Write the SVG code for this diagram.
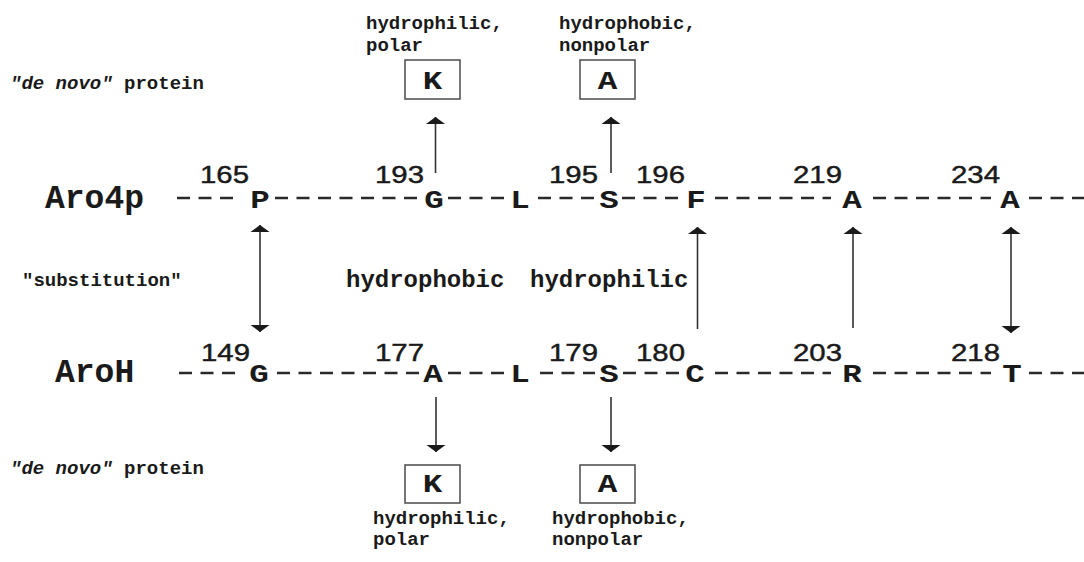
<svg xmlns="http://www.w3.org/2000/svg" width="1084" height="562" viewBox="0 0 1084 562">
<style>
.mono{font-family:"Courier New","Liberation Mono",monospace;font-weight:bold;fill:#1a1a1a}
.big{font-size:33px}
.res{font-size:26px;text-anchor:middle}
.lbl{font-size:19px}
.mid{font-size:24px}
.num{font-family:"Liberation Sans",Arial,sans-serif;font-size:24.5px;fill:#1a1a1a;stroke:#1a1a1a;stroke-width:0.45}
.dash{stroke:#2a2a2a;stroke-width:2.6;stroke-dasharray:13 8.5;fill:none}
.arr{stroke:#333;stroke-width:1.6;fill:none}
.box{fill:#fff;stroke:#555;stroke-width:1.6}
</style>
<defs>
<marker id="ah" markerUnits="userSpaceOnUse" markerWidth="10" markerHeight="22" viewBox="0 -11 8 22" refX="7" refY="0" orient="auto-start-reverse">
<path d="M0,-9.5 L7,0 L0,9.5 Z" fill="#1a1a1a"/>
</marker>
</defs>
<rect width="1084" height="562" fill="#fff"/>

<g id="connectors">
<path class="dash" d="M177,198H233 M275,198H422 M448,198H504 M538,198H594 M622,198H678 M715,198H831 M873,198H991 M1029,198H1084"/>
<path class="dash" d="M179,373H238 M277,373H420 M448,373H506 M540,373H595 M623,373H679 M715,373H831 M873,373H991 M1029,373H1084"/>
<line class="arr" x1="435.5" y1="173" x2="435.5" y2="117" marker-end="url(#ah)"/>
<line class="arr" x1="611" y1="173" x2="611" y2="117" marker-end="url(#ah)"/>
<line class="arr" x1="260" y1="225" x2="260" y2="332" marker-start="url(#ah)" marker-end="url(#ah)"/>
<line class="arr" x1="697.5" y1="329" x2="697.5" y2="227" marker-end="url(#ah)"/>
<line class="arr" x1="853" y1="328" x2="853" y2="227" marker-end="url(#ah)"/>
<line class="arr" x1="1011" y1="227" x2="1011" y2="333" marker-start="url(#ah)" marker-end="url(#ah)"/>
<line class="arr" x1="436" y1="397" x2="436" y2="452" marker-end="url(#ah)"/>
<line class="arr" x1="611" y1="397" x2="611" y2="452" marker-end="url(#ah)"/>
</g>

<g id="label-denovo-top"><text class="mono lbl" x="10" y="89"><tspan font-style="italic">"de novo"</tspan> protein</text></g>
<g id="label-denovo-bottom"><text class="mono lbl" x="10" y="474"><tspan font-style="italic">"de novo"</tspan> protein</text></g>
<g id="label-substitution"><text class="mono lbl" x="22" y="286">"substitution"</text></g>
<g id="label-hydrophobic"><text class="mono mid" x="346" y="287">hydrophobic</text></g>
<g id="label-hydrophilic"><text class="mono mid" x="530" y="287">hydrophilic</text></g>

<g id="aro4p"><text class="mono big" x="45" y="208">Aro4p</text></g>
<g id="aroh"><text class="mono big" x="55" y="382">AroH</text></g>

<g id="top-K">
<text class="mono lbl" x="366" y="29">hydrophilic,</text>
<text class="mono lbl" x="366" y="51">polar</text>
<rect class="box" x="405" y="60" width="55" height="39"/>
<text class="mono res" transform="translate(432.5,89) scale(1.25,1)">K</text>
</g>
<g id="top-A">
<text class="mono lbl" x="559" y="29">hydrophobic,</text>
<text class="mono lbl" x="559" y="51">nonpolar</text>
<rect class="box" x="580" y="60" width="55" height="39"/>
<text class="mono res" transform="translate(607.5,89) scale(1.25,1)">A</text>
</g>
<g id="bottom-K">
<rect class="box" x="405" y="465" width="55" height="38"/>
<text class="mono res" transform="translate(432.5,492) scale(1.25,1)">K</text>
<text class="mono lbl" x="373" y="524">hydrophilic,</text>
<text class="mono lbl" x="373" y="545">polar</text>
</g>
<g id="bottom-A">
<rect class="box" x="580" y="465" width="55" height="38"/>
<text class="mono res" transform="translate(607.5,492) scale(1.25,1)">A</text>
<text class="mono lbl" x="552" y="524">hydrophobic,</text>
<text class="mono lbl" x="552" y="545">nonpolar</text>
</g>

<g id="top-residues">
<g id="r-P165"><text class="num" x="200" y="183" textLength="49" lengthAdjust="spacingAndGlyphs">165</text><text class="mono res" transform="translate(260,208) scale(1.25,1)">P</text></g>
<g id="r-G193"><text class="num" x="375" y="183" textLength="49" lengthAdjust="spacingAndGlyphs">193</text><text class="mono res" transform="translate(434,208) scale(1.25,1)">G</text></g>
<g id="r-L-top"><text class="mono res" transform="translate(520,208) scale(1.25,1)">L</text></g>
<g id="r-S195"><text class="num" x="549" y="183" textLength="49" lengthAdjust="spacingAndGlyphs">195</text><text class="mono res" transform="translate(609,208) scale(1.25,1)">S</text></g>
<g id="r-F196"><text class="num" x="636" y="183" textLength="49" lengthAdjust="spacingAndGlyphs">196</text><text class="mono res" transform="translate(696,208) scale(1.25,1)">F</text></g>
<g id="r-A219"><text class="num" x="793" y="183" textLength="49" lengthAdjust="spacingAndGlyphs">219</text><text class="mono res" transform="translate(852,208) scale(1.25,1)">A</text></g>
<g id="r-A234"><text class="num" x="951" y="183" textLength="49" lengthAdjust="spacingAndGlyphs">234</text><text class="mono res" transform="translate(1010,208) scale(1.25,1)">A</text></g>
</g>

<g id="bottom-residues">
<g id="r-G149"><text class="num" x="201" y="361" textLength="49" lengthAdjust="spacingAndGlyphs">149</text><text class="mono res" transform="translate(259,382) scale(1.25,1)">G</text></g>
<g id="r-A177"><text class="num" x="375" y="361" textLength="49" lengthAdjust="spacingAndGlyphs">177</text><text class="mono res" transform="translate(433,382) scale(1.25,1)">A</text></g>
<g id="r-L-bottom"><text class="mono res" transform="translate(520,382) scale(1.25,1)">L</text></g>
<g id="r-S179"><text class="num" x="549" y="361" textLength="49" lengthAdjust="spacingAndGlyphs">179</text><text class="mono res" transform="translate(609,382) scale(1.25,1)">S</text></g>
<g id="r-C180"><text class="num" x="636" y="361" textLength="49" lengthAdjust="spacingAndGlyphs">180</text><text class="mono res" transform="translate(695,382) scale(1.25,1)">C</text></g>
<g id="r-R203"><text class="num" x="793" y="361" textLength="49" lengthAdjust="spacingAndGlyphs">203</text><text class="mono res" transform="translate(852,382) scale(1.25,1)">R</text></g>
<g id="r-T218"><text class="num" x="951" y="361" textLength="49" lengthAdjust="spacingAndGlyphs">218</text><text class="mono res" transform="translate(1012,382) scale(1.25,1)">T</text></g>
</g>
</svg>
